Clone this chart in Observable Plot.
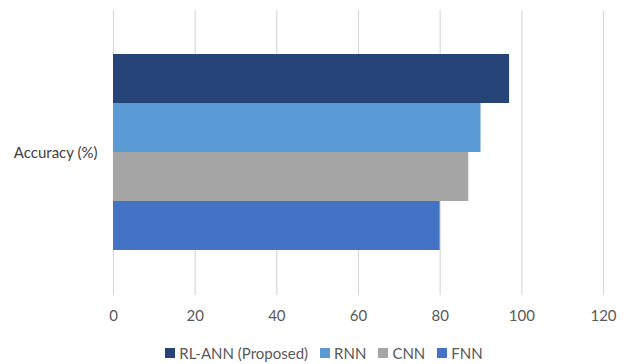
<!DOCTYPE html>
<html>
<head>
<meta charset="utf-8">
<script src="https://cdn.jsdelivr.net/npm/d3@7"></script>
<script src="https://cdn.jsdelivr.net/npm/@observablehq/plot@0.6"></script>
<style>
  html, body { margin: 0; padding: 0; background: #fff; }
  body { width: 644px; height: 364px; overflow: hidden; font-family: Lato, "Open Sans", sans-serif; }
  #legend { display: flex; justify-content: center; gap: 12px; font-size: 15px; color: #595959; margin-top: 10px; padding-left: 4px; line-height: 18px; }
  #legend span.item { display: flex; align-items: center; }
  #legend span.sw { width: 10px; height: 10px; display: inline-block; margin-right: 4px; }
</style>
</head>
<body>
<div id="chart"></div>
<div id="legend"></div>
<script>
const category = "Accuracy (%)";
const models = ["RL-ANN (Proposed)", "RNN", "CNN", "FNN"];
const accuracy = [97, 90, 87, 80];
const colors = ["#264478", "#5B9BD5", "#A5A5A5", "#4472C4"];
const xTicks = [0, 20, 40, 60, 80, 100, 120];

const data = models.map((m, i) => ({model: m, value: accuracy[i]}));

const plot = Plot.plot({
  width: 644,
  height: 334,
  marginLeft: 113,
  marginRight: 41,
  marginTop: 10,
  marginBottom: 39,
  style: {fontFamily: "Lato, 'Open Sans', sans-serif", fontSize: "15px", color: "#595959"},
  x: {domain: [0, 120], ticks: xTicks, label: null},
  y: {domain: models, range: [53.3, 250.7], padding: 0, axis: null},
  color: {domain: models, range: colors},
  marks: [
    Plot.ruleX(xTicks, {stroke: "#d9d9d9", strokeWidth: 1.2}),
    Plot.barX(data, {x: "value", y: "model", fill: "model"}),
    Plot.axisX({ticks: xTicks, tickSize: 0, tickPadding: 15, fontSize: 15, fill: "#595959"}),
    Plot.text([category], {frameAnchor: "left", text: d => d, textAnchor: "end", dx: -16, dy: 0, fontSize: 15, fill: "#404040"})
  ]
});
document.getElementById("chart").appendChild(plot);

const legend = document.getElementById("legend");
models.forEach((m, i) => {
  const item = document.createElement("span");
  item.className = "item";
  const sw = document.createElement("span");
  sw.className = "sw";
  sw.style.background = colors[i];
  item.appendChild(sw);
  item.appendChild(document.createTextNode(m));
  legend.appendChild(item);
});
</script>
</body>
</html>
